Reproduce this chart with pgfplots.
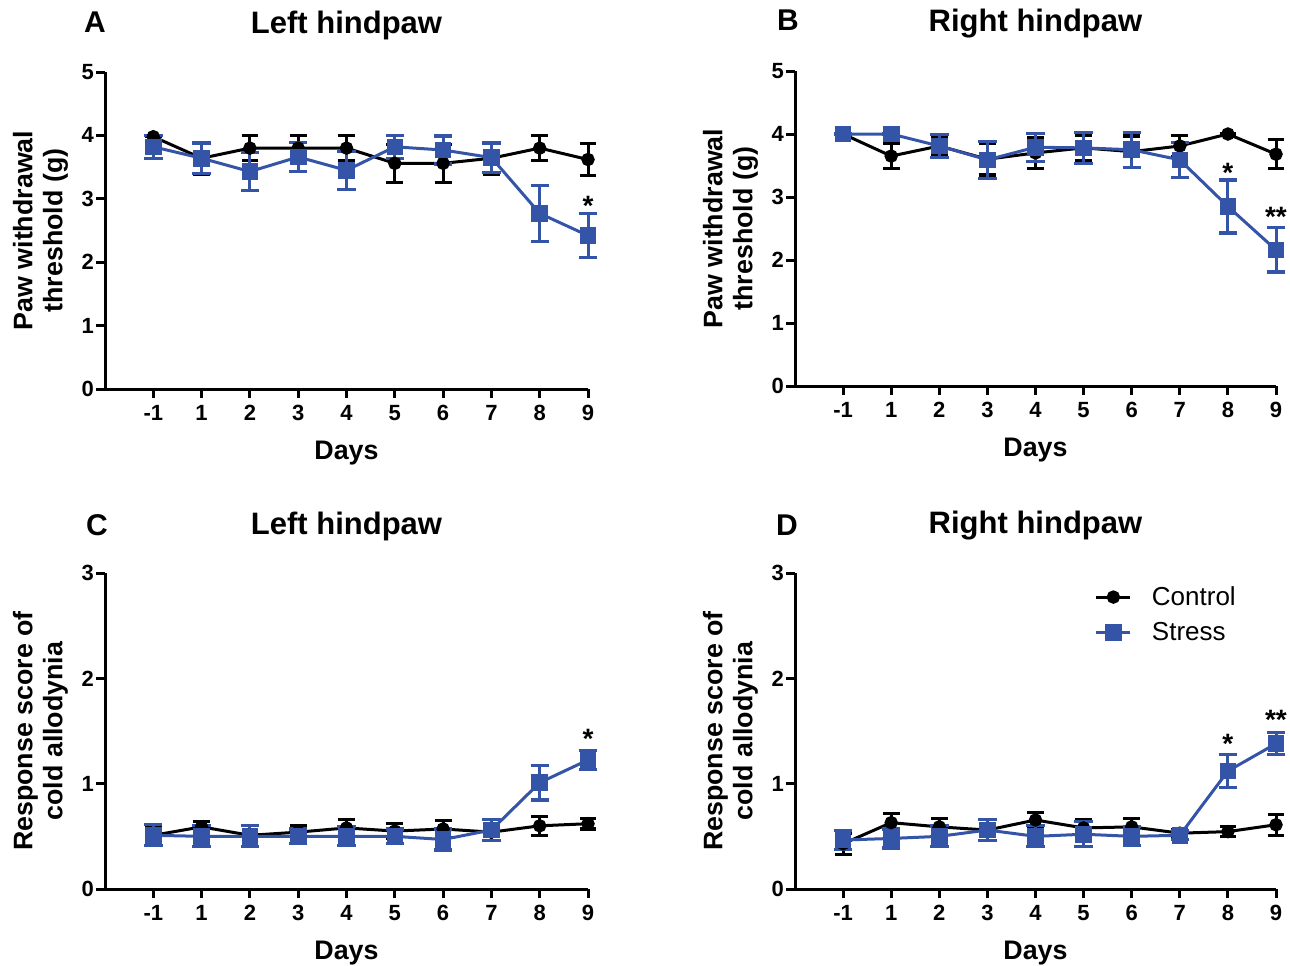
\documentclass[border=0pt]{standalone}
\usepackage{fontspec}
\setmainfont{Liberation Sans}
\usepackage{pgfplots}
\pgfplotsset{compat=1.18}
\definecolor{stressblue}{RGB}{52,84,168}

\pgfplotsset{
  paw/.style={
    scale only axis,
    xmin=-1, xmax=9, ymin=0,
    axis x line*=bottom, axis y line*=left,
    axis line style={line width=1.5pt, -},
    xtick={0,...,9}, xticklabels={-1,1,2,3,4,5,6,7,8,9},
    tick align=outside, major tick length=4.5pt,
    tick style={line width=1.5pt, black},
    tick label style={font=\bfseries\fontsize{11}{13}\selectfont},
    yticklabel style={xshift=2.5pt},
    label style={font=\bfseries\fontsize{13.4}{15}\selectfont},
    xlabel={Days},
    xlabel style={yshift=-3.5pt},
    ylabel style={align=center},
    title style={font=\bfseries\fontsize{15.5}{18}\selectfont, anchor=center, yshift=17.5pt},
    clip=false,
  },
  toppanel/.style={ymax=5, ytick={0,...,5}, yticklabels={0,1,2,3,4,5},
    ylabel={Paw withdrawal\\threshold (g)}},
  botpanel/.style={ymax=3, ytick={0,...,3}, yticklabels={0,1,2,3},
    ylabel={Response score of\\cold allodynia}},
  ctrl/.style={black, line width=1.5pt, mark=*, mark size=2.6pt, mark options={solid},
    error bars/.cd, y dir=both, y explicit,
    error bar style={line width=1.5pt},
    error mark options={rotate=90, mark size=4.2pt, line width=1.6pt}},
  strs/.style={stressblue, line width=1.5pt, mark=square*, mark size=3.4pt, mark options={solid},
    error bars/.cd, y dir=both, y explicit,
    error bar style={line width=1.5pt},
    error mark options={rotate=90, mark size=4.6pt, line width=1.6pt}},
}
\tikzset{
  letter/.style={font=\bfseries\fontsize{15}{18}\selectfont},
  star/.style={font=\bfseries\fontsize{14}{16}\selectfont, yshift=-2pt},
}

\begin{document}
\begin{tikzpicture}
\useasboundingbox (0,0) rectangle (645pt,-482.5pt);

% A
\begin{axis}[paw, toppanel, at={(52.5pt,-194.5pt)}, anchor=south west,
  width=241.5pt, height=158.5pt, title={Left hindpaw}]
\addplot[ctrl] coordinates {
  (0,3.98) +- (0,0) (1,3.64) +- (0,0.25) (2,3.8) +- (0,0.2) (3,3.8) +- (0,0.2)
  (4,3.8) +- (0,0.2) (5,3.56) +- (0,0.3) (6,3.56) +- (0,0.3) (7,3.64) +- (0,0.25)
  (8,3.8) +- (0,0.2) (9,3.62) +- (0,0.25)};
\addplot[strs] coordinates {
  (0,3.82) +- (0,0.18) (1,3.64) +- (0,0.24) (2,3.43) +- (0,0.3) (3,3.66) +- (0,0.23)
  (4,3.45) +- (0,0.3) (5,3.82) +- (0,0.18) (6,3.77) +- (0,0.22) (7,3.65) +- (0,0.23)
  (8,2.77) +- (0,0.44) (9,2.42) +- (0,0.35)};
\node[star] at (axis cs:9,2.95) {*};
\node[letter] at (rel axis cs:0,1) [xshift=-5pt, yshift=25pt] {A};
\end{axis}

% B
\begin{axis}[paw, toppanel, at={(397.5pt,-193pt)}, anchor=south west,
  width=240.5pt, height=157.5pt, title={Right hindpaw}]
\addplot[ctrl] coordinates {
  (0,4.0) +- (0,0) (1,3.65) +- (0,0.2) (2,3.81) +- (0,0.15) (3,3.6) +- (0,0.25)
  (4,3.7) +- (0,0.25) (5,3.78) +- (0,0.2) (6,3.72) +- (0,0.25) (7,3.81) +- (0,0.17)
  (8,4.0) +- (0,0) (9,3.68) +- (0,0.23)};
\addplot[strs] coordinates {
  (0,4.0) +- (0,0) (1,4.0) +- (0,0) (2,3.81) +- (0,0.18) (3,3.59) +- (0,0.29)
  (4,3.79) +- (0,0.22) (5,3.78) +- (0,0.25) (6,3.75) +- (0,0.28) (7,3.59) +- (0,0.28)
  (8,2.85) +- (0,0.42) (9,2.16) +- (0,0.35)};
\node[star] at (axis cs:8,3.44) {*};
\node[star] at (axis cs:9,2.75) {**};
\node[letter] at (rel axis cs:0,1) [xshift=-3.5pt, yshift=25.5pt] {B};
\end{axis}

% C
\begin{axis}[paw, botpanel, at={(52.5pt,-444.5pt)}, anchor=south west,
  width=241.5pt, height=158pt, title={Left hindpaw}]
\addplot[ctrl] coordinates {
  (0,0.51) +- (0,0.07) (1,0.59) +- (0,0.05) (2,0.51) +- (0,0.05) (3,0.54) +- (0,0.06)
  (4,0.58) +- (0,0.08) (5,0.55) +- (0,0.07) (6,0.57) +- (0,0.08) (7,0.54) +- (0,0.08)
  (8,0.6) +- (0,0.09) (9,0.62) +- (0,0.05)};
\addplot[strs] coordinates {
  (0,0.51) +- (0,0.1) (1,0.5) +- (0,0.1) (2,0.5) +- (0,0.1) (3,0.5) +- (0,0.07)
  (4,0.5) +- (0,0.09) (5,0.5) +- (0,0.07) (6,0.47) +- (0,0.1) (7,0.56) +- (0,0.1)
  (8,1.01) +- (0,0.165) (9,1.225) +- (0,0.09)};
\node[star] at (axis cs:9,1.46) {*};
\node[letter] at (rel axis cs:0,1) [xshift=-4pt, yshift=24pt] {C};
\end{axis}

% D
\begin{axis}[paw, botpanel, at={(397.5pt,-444.5pt)}, anchor=south west,
  width=240.5pt, height=158pt, title={Right hindpaw},
  legend style={draw=none, fill=none, at={(0.61,0.985)}, anchor=north west,
    font=\fontsize{13}{15}\selectfont, row sep=3pt,
    /tikz/every odd column/.append style={column sep=8pt}},
  legend cell align=left]
\addplot[ctrl] coordinates {
  (0,0.43) +- (0,0.1) (1,0.63) +- (0,0.09) (2,0.59) +- (0,0.08) (3,0.56) +- (0,0.06)
  (4,0.655) +- (0,0.07) (5,0.58) +- (0,0.08) (6,0.59) +- (0,0.08) (7,0.53) +- (0,0.03)
  (8,0.545) +- (0,0.05) (9,0.61) +- (0,0.1)};
\addplot[strs] coordinates {
  (0,0.465) +- (0,0.09) (1,0.48) +- (0,0.09) (2,0.5) +- (0,0.1) (3,0.56) +- (0,0.1)
  (4,0.5) +- (0,0.1) (5,0.52) +- (0,0.12) (6,0.5) +- (0,0.09) (7,0.51) +- (0,0.04)
  (8,1.12) +- (0,0.155) (9,1.38) +- (0,0.105)};
\legend{Control, Stress}
\node[star] at (axis cs:8,1.42) {*};
\node[star] at (axis cs:9,1.64) {**};
\node[letter] at (rel axis cs:0,1) [xshift=-4pt, yshift=24pt] {D};
\end{axis}
\end{tikzpicture}
\end{document}
